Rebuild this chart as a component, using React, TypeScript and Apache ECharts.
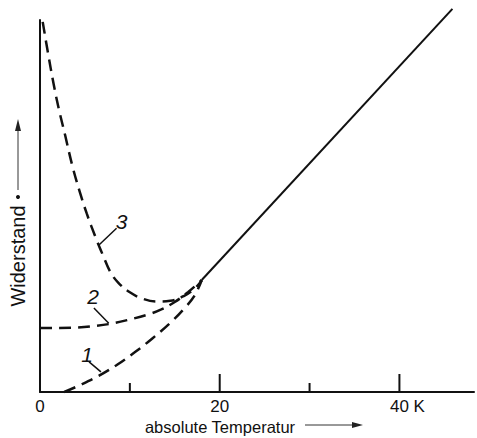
import React, { useEffect, useRef } from "react";
import * as echarts from "echarts";

// Tick values and labels of the temperature axis (K)
const tickValues = [0, 20, 40];
const tickLabels = ["0", "20", "40 K"];
const majorTickValues = [20, 40];
const minorTickValues = [10, 30];

// Linear (phonon) part of the resistance, solid line
const linearT = [18.0, 45.9];
const linearR = [30.1, 103.0];

// Curve 1 (pure metal)
const curve1T = [2.7, 4.5, 6.5, 8.5, 10.5, 12.5, 14.5, 16.0, 17.2, 18.0];
const curve1R = [0, 1.9, 4.3, 7.2, 10.6, 14.4, 18.6, 22.3, 25.9, 30.1];

// Curve 2 (residual resistance)
const curve2T = [0, 2, 4, 6, 8, 10, 12, 13.5, 15, 16.5, 18.0];
const curve2R = [17.2, 17.2, 17.3, 17.7, 18.4, 19.5, 20.8, 22.2, 24.2, 26.9, 30.1];

// Curve 3 (resistance minimum)
const curve3T = [0.3, 0.9, 1.5, 2.1, 2.8, 3.6, 4.4, 5.2, 6.2, 7.0, 7.8, 8.7, 10.0, 11.5, 13.0, 14.5, 16.0, 17.2, 18.0];
const curve3R = [99.5, 91.0, 83.0, 76.0, 69.0, 60.8, 54.0, 48.0, 41.5, 36.8, 32.4, 29.4, 26.8, 25.0, 24.3, 24.5, 25.8, 27.8, 30.0];

// Curve labels and their leader lines
const curveLabels = ["1", "2", "3"];
const labelT = [5.25, 5.9, 9.07];
const labelR = [10.2, 25.8, 45.7];
const leaderFromT = [5.46, 6.0, 6.56];
const leaderFromR = [8.1, 22.6, 39.5];
const leaderToT = [6.78, 7.65, 8.52];
const leaderToR = [5.4, 18.5, 44.0];

const xTitle = "absolute Temperatur";
const yTitle = "Widerstand";

const zip = (a: number[], b: number[]) => a.map((v, i) => [v, b[i]]);

export default function App() {
  const ref = useRef<HTMLDivElement>(null);
  useEffect(() => {
    if (!ref.current) return;
    const chart = echarts.init(ref.current, undefined, { renderer: "svg" });
    const ink = "#111";
    const font = "Liberation Sans";
    const dash = [12, 7];
    const curveSeries = [
      [curve1T, curve1R],
      [curve2T, curve2R],
      [curve3T, curve3R],
    ].map(([t, r]) => ({
      type: "line",
      data: zip(t, r),
      smooth: 0.4,
      symbol: "none",
      clip: false,
      lineStyle: { color: ink, width: 2.5, type: dash },
    }));
    const leaderSeries = curveLabels.map((_, i) => ({
      type: "line",
      data: [
        [leaderFromT[i], leaderFromR[i]],
        [leaderToT[i], leaderToR[i]],
      ],
      symbol: "none",
      clip: false,
      lineStyle: { color: ink, width: 1.5 },
    }));
    const labelMap: Record<number, string> = {};
    tickValues.forEach((v, i) => (labelMap[v] = tickLabels[i]));

    const tickData = [
      ...majorTickValues.map((v) => ({ value: [v, 0], major: true })),
      ...minorTickValues.map((v) => ({ value: [v, 0], major: false })),
    ];

    chart.setOption({
      animation: false,
      backgroundColor: "#fff",
      grid: { left: 40, right: -5, top: 20, bottom: 46, containLabel: false },
      xAxis: {
        type: "value",
        min: 0,
        max: 48.3,
        interval: 20,
        axisLine: { show: true, lineStyle: { color: ink, width: 2 } },
        axisTick: { show: false },
        splitLine: { show: false },
        axisLabel: {
          margin: 6,
          color: ink,
          fontFamily: font,
          fontSize: 17,
          formatter: (v: number) => {
            const s = labelMap[v];
            if (s === undefined) return "";
            if (s.includes(" ")) {
              const [num, unit] = s.split(" ");
              return `{p|}${num}{k| ${unit}}`;
            }
            return s;
          },
          rich: {
            p: { width: 16 },
            k: { fontFamily: font, fontSize: 17, color: ink },
          },
        },
      },
      yAxis: {
        type: "value",
        min: 0,
        max: 100,
        axisLine: { show: true, lineStyle: { color: ink, width: 2 } },
        axisTick: { show: false },
        axisLabel: { show: false },
        splitLine: { show: false },
      },
      series: [
        {
          type: "custom",
          clip: false,
          data: tickData.map((d) => d.value),
          renderItem: (params: any, api: any) => {
            const p = api.coord([api.value(0), api.value(1)]);
            const len = tickData[params.dataIndex].major ? 18 : 9;
            return {
              type: "line",
              shape: { x1: p[0], y1: p[1], x2: p[0], y2: p[1] - len },
              style: { stroke: ink, lineWidth: 2 },
            };
          },
        },
        {
          type: "line",
          data: zip(linearT, linearR),
          symbol: "none",
          clip: false,
          lineStyle: { color: ink, width: 2 },
        },
        ...curveSeries,
        ...leaderSeries,
        {
          type: "scatter",
          symbolSize: 0,
          clip: false,
          itemStyle: { color: ink, opacity: 1 },
          data: curveLabels.map((name, i) => ({ name, value: [labelT[i], labelR[i]] })),
          label: {
            show: true,
            position: "inside",
            formatter: (p: any) => p.name,
            color: ink,
            textBorderWidth: 0,
            fontFamily: font,
            fontStyle: "italic",
            fontSize: 21,
          },
        },
      ],
      graphic: [
        {
          type: "text",
          x: 220,
          y: 427,
          style: {
            text: xTitle,
            fill: ink,
            font: "16.5px 'Liberation Sans'",
            align: "center",
            verticalAlign: "middle",
          },
        },
        {
          type: "line",
          shape: { x1: 305, y1: 425, x2: 354, y2: 425 },
          style: { stroke: "#333", lineWidth: 1 },
        },
        {
          type: "polygon",
          shape: { points: [[352, 422], [363, 425], [352, 428]] },
          style: { fill: "#222" },
        },
        {
          type: "text",
          x: 18,
          y: 256,
          rotation: Math.PI / 2,
          style: {
            text: yTitle,
            fill: ink,
            font: "20px 'Liberation Sans'",
            align: "center",
            verticalAlign: "middle",
          },
        },
        {
          type: "circle",
          shape: { cx: 18, cy: 197, r: 2 },
          style: { fill: ink },
        },
        {
          type: "line",
          shape: { x1: 18, y1: 190, x2: 18, y2: 128 },
          style: { stroke: "#333", lineWidth: 1 },
        },
        {
          type: "polygon",
          shape: { points: [[15, 131], [18, 119], [21, 131]] },
          style: { fill: "#222" },
        },
      ],
    });
    return () => chart.dispose();
  }, []);
  return (
    <div
      ref={ref}
      style={{ position: "absolute", left: 0, top: 0, width: 477, height: 438 }}
    />
  );
}
